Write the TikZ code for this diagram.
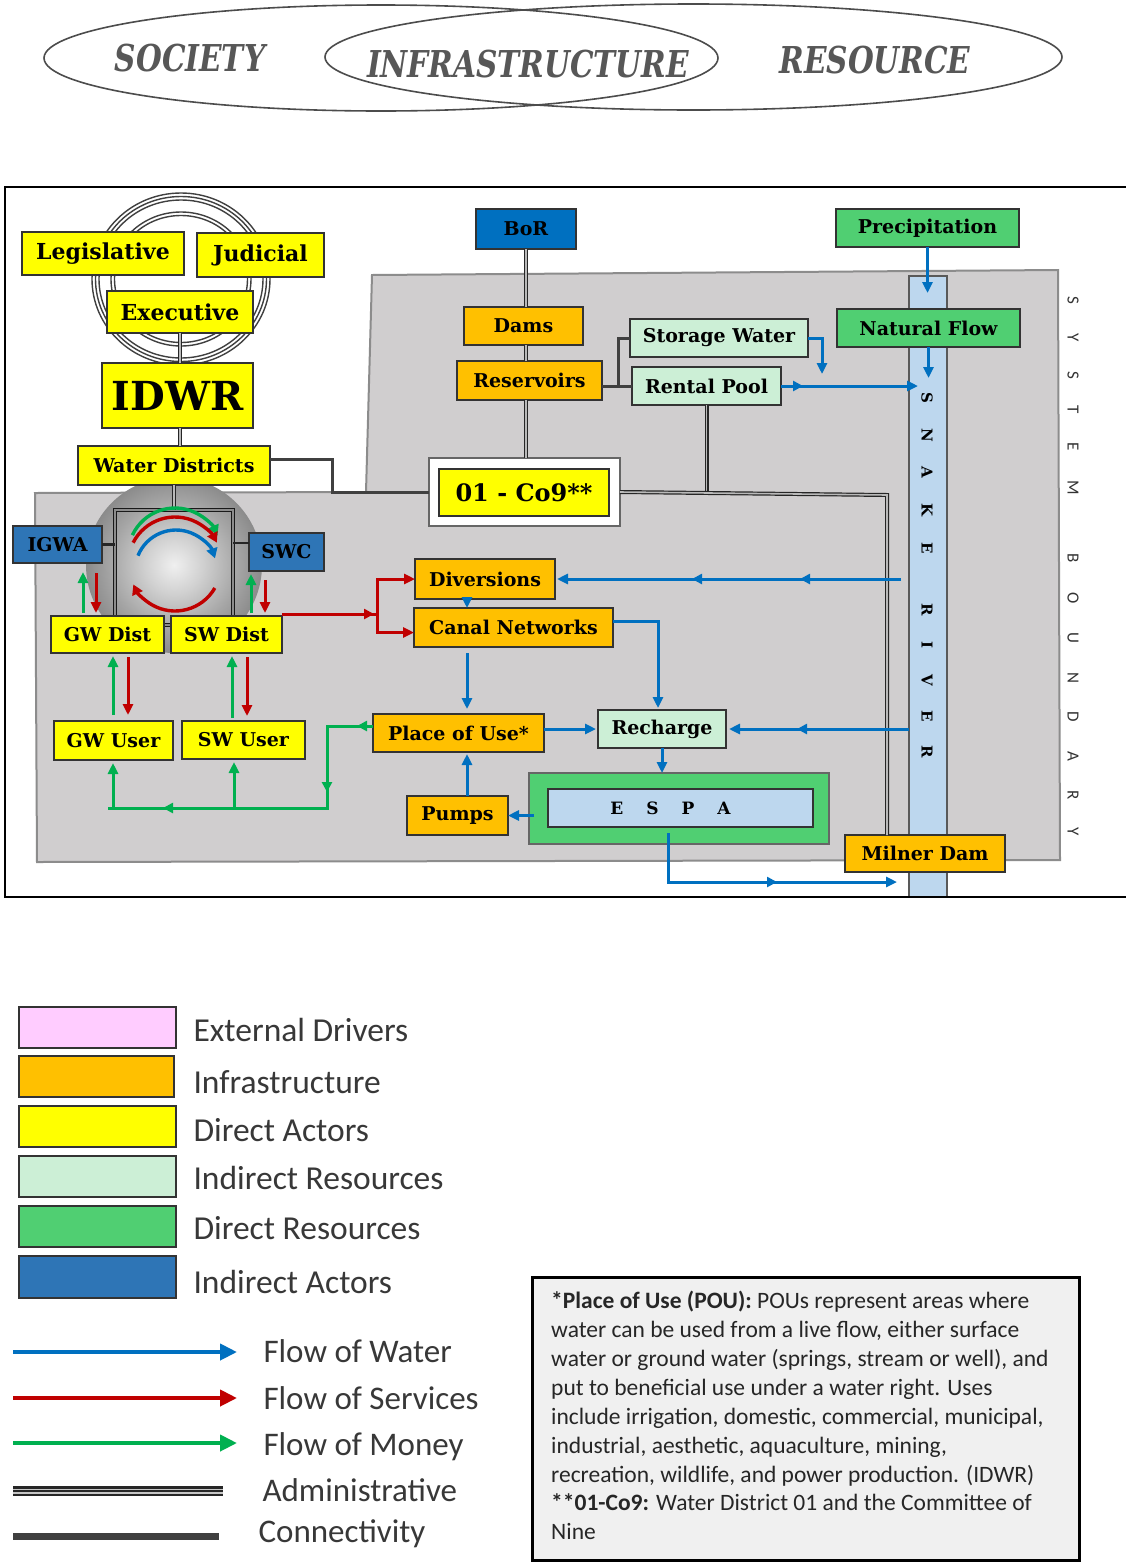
\documentclass[tikz,border=0pt]{standalone}
\usepackage{fontspec}
\usetikzlibrary{arrows.meta,decorations.markings,calc}
\setmainfont{DejaVu Serif}
\newfontfamily\lblf{DejaVu Serif}
\newfontfamily\capf{DejaVu Serif}[FakeStretch=0.8]
\newfontfamily\calf{Carlito}

\definecolor{cYellow}{HTML}{FFFF00}
\definecolor{cOrange}{HTML}{FFC000}
\definecolor{cLGreen}{HTML}{CCEFD6}
\definecolor{cGreen}{HTML}{50CF72}
\definecolor{cBlue}{HTML}{2E75B6}
\definecolor{cBoR}{HTML}{0070C0}
\definecolor{cPink}{HTML}{FFCCFF}
\definecolor{cRiver}{HTML}{BDD7EE}
\definecolor{cGrey}{HTML}{D0CECF}
\definecolor{wBlue}{HTML}{0070C0}
\definecolor{sRed}{HTML}{C00000}
\definecolor{mGreen}{HTML}{00B050}
\definecolor{ink}{HTML}{404040}

\pgfdeclareradialshading{orb}{\pgfpoint{0bp}{0bp}}{color(0bp)=(white!94!black); color(8bp)=(black!18); color(18bp)=(black!35); color(28bp)=(black!50); color(40bp)=(black!62); color(50bp)=(black!70)}
\pgfdeclarelayer{back}
\pgfsetlayers{back,main}

% box from pixel corners (x1,y1)-(x2,y2), y measured downwards
\newcommand\bx[7][]{%
  \pgfmathsetmacro\bxw{(#5)-(#3)}\pgfmathsetmacro\bxh{(#6)-(#4)}%
  \pgfmathsetmacro\bxx{((#3)+(#5))/2}\pgfmathsetmacro\bxy{-((#4)+(#6))/2}%
  \node[#1, minimum width=\bxw pt, minimum height=\bxh pt] (#2) at (\bxx,\bxy) {#7};}

\tikzset{
  fs/.style={font=\lblf\bfseries\fontsize{#1}{#1}\selectfont},
  lbl/.style={draw=black!80, line width=1.2pt, inner sep=0pt, outer sep=0pt, fs=19, text=black},
  act/.style={lbl, fill=cYellow},
  infra/.style={lbl, fill=cOrange},
  ires/.style={lbl, fill=cLGreen},
  dres/.style={lbl, fill=cGreen},
  iact/.style={lbl, fill=cBlue},
  flow/.style={line width=3pt, -{Triangle[length=11pt,width=10pt]}},
  water/.style={flow, draw=wBlue},
  serv/.style={flow, draw=sRed},
  money/.style={flow, draw=mGreen},
  adm/.style={draw=black!85, line width=1.2pt, double=gray!55, double distance=1.6pt},
  conn/.style={draw=ink, line width=3pt},
  mid1/.style={postaction={decorate}, decoration={markings,
      mark=at position #1 with {\arrow{Triangle[length=10pt,width=10pt]}}}},
  mid2/.style 2 args={postaction={decorate}, decoration={markings,
      mark=at position #1 with {\arrow{Triangle[length=10pt,width=10pt]}},
      mark=at position #2 with {\arrow{Triangle[length=10pt,width=10pt]}}}},
  mid3/.style n args={3}{postaction={decorate}, decoration={markings,
      mark=at position #1 with {\arrow{Triangle[length=10pt,width=10pt]}},
      mark=at position #2 with {\arrow{Triangle[length=10pt,width=10pt]}},
      mark=at position #3 with {\arrow{Triangle[length=10pt,width=10pt]}}}},
  topword/.style={font=\capf\bfseries\itshape\fontsize{37}{37}\selectfont, text=black!66},
  legtext/.style={anchor=west, font=\calf\fontsize{33.5}{33.5}\selectfont, text=black!78},
  flowtext/.style={anchor=west, font=\calf\fontsize{33}{33}\selectfont, text=black!78},
  sysletter/.style={rotate=-90, font=\calf\fontsize{17}{17}\selectfont, text=black!80},
  rivletter/.style={rotate=-90, fs=15},
}

\begin{document}
\begin{tikzpicture}[x=1pt,y=1pt]
\useasboundingbox (0,0) rectangle (1126,-1564);

\begin{pgfonlayer}{back}
  \fill[white] (0,0) rectangle (1126,-1564);
  % system boundary area
  \draw[fill=cGrey, draw=black!45, line width=2pt]
    (372,-275) -- (1058,-270) -- (1060,-860) -- (37,-862) -- (35,-493) -- (366,-492) -- cycle;
  % Snake River
  \bx[draw=black!65, line width=1.3pt, fill=cRiver, inner sep=0pt, outer sep=0pt]{river}{909}{276}{947}{897}{}
  % government rings
  \foreach \rx/\ry in {89/86, 85.5/82.5, 82/79, 70/67, 66.5/63.5}
    \draw[black!75, line width=1.4pt] (181,-279) ellipse [x radius=\rx, y radius=\ry];
  % shaded hub of the districts
  \shade[shading=orb] (174,-565) circle (88);
  \bx[draw=black!90, line width=1.4pt, double=black!45, double distance=1.8pt, inner sep=0pt, outer sep=0pt]{hub}{115}{510}{233}{625}{}
\end{pgfonlayer}

% ---- the three overlapping domains
\draw[black!70, line width=1.6pt] (381,-58) ellipse [x radius=337, y radius=53];
\draw[black!70, line width=1.6pt] (693.5,-57) ellipse [x radius=368.5, y radius=53];
\node[topword] (society) at (190,-58) {SOCIETY};
\node[topword] (infra) at (528,-64) {INFRASTRUCTURE};
\node[topword] (resource) at (875,-60) {RESOURCE};

% ---- system frame
\draw[black, line width=2pt] (1126,-187) -- (5,-187) -- (5,-897) -- (1126,-897);

% ---- actors
\bx[act, fs=22]{leg}{22}{232}{184}{275}{Legislative}
\bx[act, fs=22]{jud}{197}{233}{324}{277}{Judicial}
\bx[act, fs=22]{exe}{107}{291}{253}{333}{Executive}
\bx[act, fs=40]{idwr}{102}{363}{253}{428}{IDWR}
\bx[act]{wd}{78}{446}{270}{485}{Water Districts}
\bx[iact]{igwa}{13}{526}{102}{563}{IGWA}
\bx[iact]{swc}{249}{533}{324}{571}{SWC}
\bx[act]{gwd}{51}{616}{164}{653}{GW Dist}
\bx[act]{swd}{171}{616}{282}{653}{SW Dist}
\bx[act]{gwu}{54}{721}{173}{760}{GW User}
\bx[act]{swu}{182}{721}{305}{759}{SW User}

% ---- infrastructure and resources
\bx[lbl, fill=cBoR]{bor}{476}{209}{576}{249}{BoR}
\bx[infra]{dams}{464}{307}{583}{345}{Dams}
\bx[infra]{res}{457}{361}{602}{400}{Reservoirs}
\bx[ires]{stor}{630}{319}{808}{357}{Storage Water}
\bx[ires]{rent}{632}{367}{781}{405}{Rental Pool}
\bx[lbl, fill=white, draw=black!60, line width=2pt]{coW}{429}{458}{620}{526}{}
\bx[act, fs=24]{co}{439}{469}{609}{516}{01 - Co9**}
\bx[dres]{prec}{836}{209}{1019}{247}{Precipitation}
\bx[dres]{nat}{837}{309}{1020}{347}{Natural Flow}
\bx[infra]{div}{415}{559}{555}{599}{Diversions}
\bx[infra]{canal}{414}{608}{613}{647}{Canal Networks}
\bx[infra]{pou}{373}{714}{544}{752}{Place of Use*}
\bx[ires]{rech}{598}{710}{726}{748}{Recharge}
\bx[infra]{pumps}{407}{796}{508}{835}{Pumps}
\bx[lbl, fill=cGreen, draw=black!60, line width=2pt]{espaO}{529}{773}{829}{844}{}
\bx[lbl, fill=cRiver, fs=17]{espa}{548}{789}{813}{827}{E\hspace{23pt}S\hspace{23pt}P\hspace{23pt}A\kern20pt}
\bx[infra]{milner}{845}{835}{1005}{872}{Milner Dam}

% ---- river and boundary lettering
\foreach \ch/\yy in {S/398,N/435,A/472,K/510,E/548,R/610,I/645,V/680,E/716,R/752}
  \node[rivletter] (rv\yy) at (927,-\yy) {\ch};
\foreach \ch/\yy in {S/300,Y/338,S/375,T/410,E/447,M/488,B/558,O/598,U/638,N/678,D/717,A/756,R/795,Y/832}
  \node[sysletter] (sb\yy) at (1073,-\yy) {\ch};

% ---- free ends and bends
\coordinate (c1) at (332,-492);
\coordinate (c2) at (618,-386);
\coordinate (a1) at (887,-495);
\coordinate (jn) at (377,-614);
\coordinate (m1) at (327,-808);
\coordinate (m2) at (108,-808);
\coordinate (mg) at (113,-808);
\coordinate (ms) at (234,-808);
\coordinate (sj) at (822,-386);
\coordinate (espaOut) at (897,-882);
\coordinate (espaBend) at (668,-882);

% ---- administrative links
\draw[adm] (exe.south) -- (exe.south |- idwr.north);
\draw[adm] (exe.south |- idwr.south) -- (exe.south |- wd.north);
\draw[adm] (hub.north -| wd.south) -- (wd.south);
\draw[adm] (bor.south) -- (bor.south |- dams.north);
\draw[adm] (bor.south |- dams.south) -- (bor.south |- res.north);
\draw[adm] (bor.south |- res.south) -- (bor.south |- coW.north);
\draw[adm] (rent.south) -- (rent.south |- coW.east);
\draw[adm] (coW.east) -- (a1) -- (a1 |- milner.north);

% ---- connectivity
\draw[conn] ([yshift=6pt]wd.east) -| (c1) -- (coW.west);
\draw[conn] (res.east |- rent.west) -- (rent.west);
\draw[conn] (c2) |- (stor.west);
\draw[draw=black!85, line width=2.4pt] (igwa.east) -- (igwa.east -| hub.west);
\draw[draw=black!85, line width=2.4pt] ([yshift=9pt]swc.west) -- ([yshift=9pt]swc.west -| hub.east);

% ---- flows of water
\draw[water] (prec.south) -- ++(0,-46);
\draw[water] (nat.south) -- ++(0,-31);
\draw[water, mid1=22pt] (rent.east |- sj) -- ([xshift=9pt]river.west |- sj);
\draw[water] (stor.east) -| ([yshift=12pt]sj);
\draw[water, mid2={101pt}{209pt}] ([xshift=-8pt]river.west |- div.east) -- ([xshift=2pt]div.east);
\draw[water] ([xshift=-18pt]div.south) -- ([xshift=-18pt]div.south |- canal.north);
\draw[water, shorten <=6pt, shorten >=5pt] ([xshift=8.5pt]pou.north |- canal.south) -- ([xshift=8.5pt]pou.north);
\draw[water, shorten >=2pt] ([yshift=6pt]canal.east) -| ([xshift=-4pt]rech.north);
\draw[water, shorten >=2pt] (pou.east |- rech.west) -- (rech.west);
\draw[water, mid1=112pt, shorten >=3pt] (river.west |- rech.east) -- (rech.east);
\draw[water] (rech.south) -- (rech.south |- espaO.north);
\draw[water] ([xshift=5pt]espaO.west |- pumps.east) -- (pumps.east);
\draw[water, shorten >=2pt] ([xshift=9.5pt]pumps.north) -- ([xshift=9.5pt]pumps.north |- pou.south);
\draw[water, mid1=158pt] ([xshift=-12.5pt,yshift=-6pt]espa.south) -- (espaBend) -- (espaOut);

% ---- flows of services and money
\draw[money, shorten <=3pt, shorten >=9pt] (gwd.north -| 83,0) -- (igwa.south -| 83,0);
\draw[serv, shorten <=10pt, shorten >=3pt] (igwa.south -| 96,0) -- (gwd.north -| 96,0);
\draw[money, shorten <=3pt, shorten >=3pt] (swd.north -| 251,0) -- (swc.south -| 251,0);
\draw[serv, shorten <=9pt, shorten >=3pt] (swc.south -| 265,0) -- (swd.north -| 265,0);
\draw[money, shorten <=6pt, shorten >=3pt] (gwu.north -| 113,0) -- (gwd.south -| 113,0);
\draw[serv, shorten <=4pt, shorten >=6pt] (gwd.south -| 128,0) -- (gwu.north -| 128,0);
\draw[money, shorten <=3pt, shorten >=3pt] (swu.north -| 232,0) -- (swd.south -| 232,0);
\draw[serv, shorten <=4pt, shorten >=5pt] (swd.south -| 247,0) -- (swu.north -| 247,0);
\draw[serv, -, mid1=92pt] ([yshift=2pt]swd.north east) -- (jn);
\draw[serv] (jn) |- (div.west);
\draw[serv] (jn) |- ([yshift=-5pt]canal.west);
\draw[money, -, mid3={16pt}{112pt}{292pt}] ([yshift=7pt]pou.west) -| (m1) -- (m2);
\draw[money, shorten >=3pt] (mg) -- (mg |- gwu.south);
\draw[money, shorten >=3pt] (ms) -- (ms |- swu.south);

% ---- circulation inside the hub
\draw[money, line width=3.4pt, -{Triangle[length=10pt,width=11pt]}] (175,-555) ++(155:47) arc[start angle=155, end angle=25, radius=47];
\draw[serv, line width=3.4pt, -{Triangle[length=10pt,width=11pt]}] (175,-564) ++(153:47) arc[start angle=153, end angle=27, radius=47];
\draw[water, line width=3.4pt, -{Triangle[length=10pt,width=11pt]}] (176,-571) ++(158:41) arc[start angle=158, end angle=18, radius=41];
\draw[serv, line width=3.4pt, -{Triangle[length=10pt,width=11pt]}] (175,-565) ++(-30:46) arc[start angle=-30, end angle=-155, radius=46];

% ---- legend: categories
\bx[lbl, fill=cPink, line width=2pt]{lgA}{19}{1007}{176}{1048}{}
\bx[lbl, fill=cOrange, line width=2pt]{lgB}{19}{1056}{174}{1097}{}
\bx[lbl, fill=cYellow, line width=2pt]{lgC}{19}{1106}{176}{1147}{}
\bx[lbl, fill=cLGreen, line width=2pt]{lgD}{19}{1156}{176}{1197}{}
\bx[lbl, fill=cGreen, line width=2pt]{lgE}{19}{1206}{176}{1247}{}
\bx[lbl, fill=cBlue, line width=2pt]{lgF}{19}{1256}{176}{1298}{}
\node[legtext] (ltA) at (190,-1030) {External Drivers};
\node[legtext] (ltB) at (190,-1082) {Infrastructure};
\node[legtext] (ltC) at (190,-1130) {Direct Actors};
\node[legtext] (ltD) at (190,-1178) {Indirect Resources};
\node[legtext] (ltE) at (190,-1228) {Direct Resources};
\node[legtext] (ltF) at (190,-1282) {Indirect Actors};

% ---- legend: link types
\coordinate (lw1) at (13,-1352); \coordinate (lw2) at (237,-1352);
\coordinate (ls1) at (13,-1398); \coordinate (ls2) at (237,-1398);
\coordinate (lm1) at (13,-1443); \coordinate (lm2) at (237,-1443);
\coordinate (la1) at (13,-1491); \coordinate (la2) at (223,-1491);
\coordinate (lc1) at (13,-1536); \coordinate (lc2) at (219,-1536);
\draw[water, line width=4pt, -{Triangle[length=17pt,width=16pt]}] (lw1) -- (lw2);
\draw[serv, line width=4pt, -{Triangle[length=17pt,width=16pt]}] (ls1) -- (ls2);
\draw[money, line width=4pt, -{Triangle[length=17pt,width=16pt]}] (lm1) -- (lm2);
\draw[draw=black!85, line width=2.6pt, double=gray!45, double distance=5pt] (la1) -- (la2);
\draw[black!85, line width=1.6pt] (la1) -- (la2);
\draw[ink, line width=7pt] (lc1) -- (lc2);
\node[flowtext] (ltW) at (260,-1351) {Flow of Water};
\node[flowtext] (ltS) at (260,-1398) {Flow of Services};
\node[flowtext] (ltM) at (260,-1447) {Flow of Money};
\node[flowtext] (ltAd) at (259,-1490) {Administrative};
\node[flowtext] (ltCo) at (255,-1534) {Connectivity};

% ---- footnote box
\bx[draw=black, line width=3pt, fill=black!6, inner sep=0pt]{note}{532}{1277}{1079}{1560}{}
\node[anchor=north west, align=left, inner sep=0pt, text=black!85,
      font=\calf\fontsize{23.5}{28.9}\selectfont] (notetext) at (551,-1291)
  {\textbf{*Place of Use (POU):} POUs represent areas where\\
   water can be used from a live flow, either surface\\
   water or ground water (springs, stream or well), and\\
   put to beneficial use under a water right. Uses\\
   include irrigation, domestic, commercial, municipal,\\
   industrial, aesthetic, aquaculture, mining,\\
   recreation, wildlife, and power production. (IDWR)\\
   \textbf{**01-Co9:} Water District 01 and the Committee of\\
   Nine};
\end{tikzpicture}
\end{document}
